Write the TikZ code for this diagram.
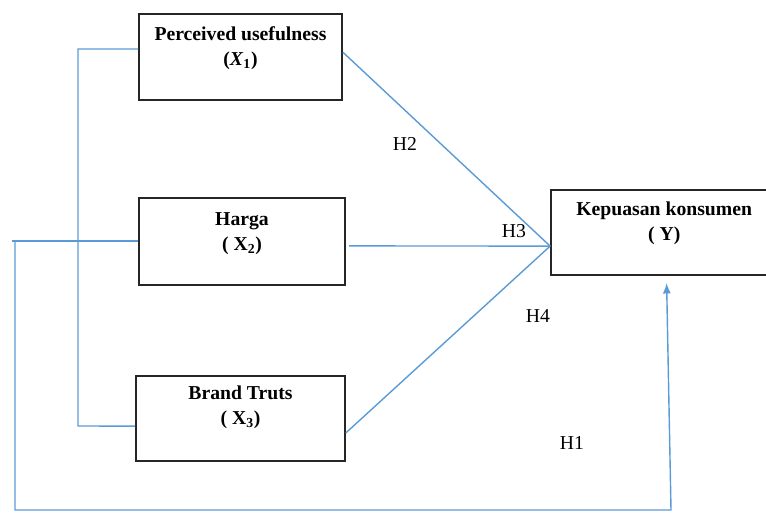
\documentclass[tikz,border=0pt]{standalone}
\usepackage{fontspec}
\setmainfont{Liberation Serif}
\usepackage{tikz}
\usetikzlibrary{arrows.meta,calc,positioning}
\definecolor{linkblue}{RGB}{91,155,213}
\definecolor{boxgray}{RGB}{38,38,38}

\begin{document}
\begin{tikzpicture}[>={Latex[length=0.26cm,width=0.2cm]}, x=0.025cm, y=-0.025cm,
	var/.style={draw=boxgray, line width=1.2pt, inner sep=0pt},
	title/.style={anchor=north, align=center, inner sep=0pt,
		font=\fontsize{14}{17.8}\selectfont\bfseries},
	hyp/.style={font=\fontsize{14}{17}\selectfont},
	link/.style={draw=linkblue, line width=1pt}]
\path[use as bounding box, clip] (0,0) rectangle (766,513);

% the shapes
\node[var, minimum width=5.075cm, minimum height=2.15cm] at (240.5,57) (x1) {};
\node[var, minimum width=5.15cm, minimum height=2.175cm] at (242,241.5) (x2) {};
\node[var, minimum width=5.225cm, minimum height=2.125cm] at (240.5,418.5) (x3) {};
\node[var, minimum width=5.5cm, minimum height=2.125cm] at (661,232.5) (yv) {};

% the texts in the boxes
\node[title, yshift=-0.325cm] at (x1.north) (t1) {Perceived usefulness\\(\textit{X}\textsubscript{1})};
\node[title, yshift=-0.375cm] at (x2.north) (t2) {Harga\\( X\textsubscript{2})};
\node[title, yshift=-0.25cm] at (x3.north) (t3) {Brand Truts\\( X\textsubscript{3})};
\node[title, xshift=0.08cm, yshift=-0.3cm] at (yv.north) (ty) {Kepuasan konsumen\\( Y)};

% the arrows
\coordinate (join) at ([yshift=-0.34cm]yv.west);
\draw[link] ([yshift=0.12cm]x1.east) -- (join);
\draw[link] ([xshift=0.08cm,yshift=-0.11cm]x2.east) -- (join);
\draw[link] ([yshift=-0.36cm]x3.east) -- (join);

\coordinate (brk) at (78,426);
\draw[link] ([yshift=0.2cm]x1.west) -| (brk) -- ([yshift=-0.19cm]x3.west);

\coordinate (left) at (12,241);
\coordinate (down) at (15,241);
\coordinate (corner) at (671,510);
\draw[link] ([yshift=0.0125cm]x2.west) -- (left);
\draw[link,->] (down) |- (corner) -- ([xshift=0.14cm,yshift=-0.18cm]yv.south);

% the labels
\node[hyp] at (405,144) (h2) {H2};
\node[hyp] at (514,231) (h3) {H3};
\node[hyp] at (538,316) (h4) {H4};
\node[hyp] at (572,443) (h1) {H1};

\end{tikzpicture}
\end{document}
